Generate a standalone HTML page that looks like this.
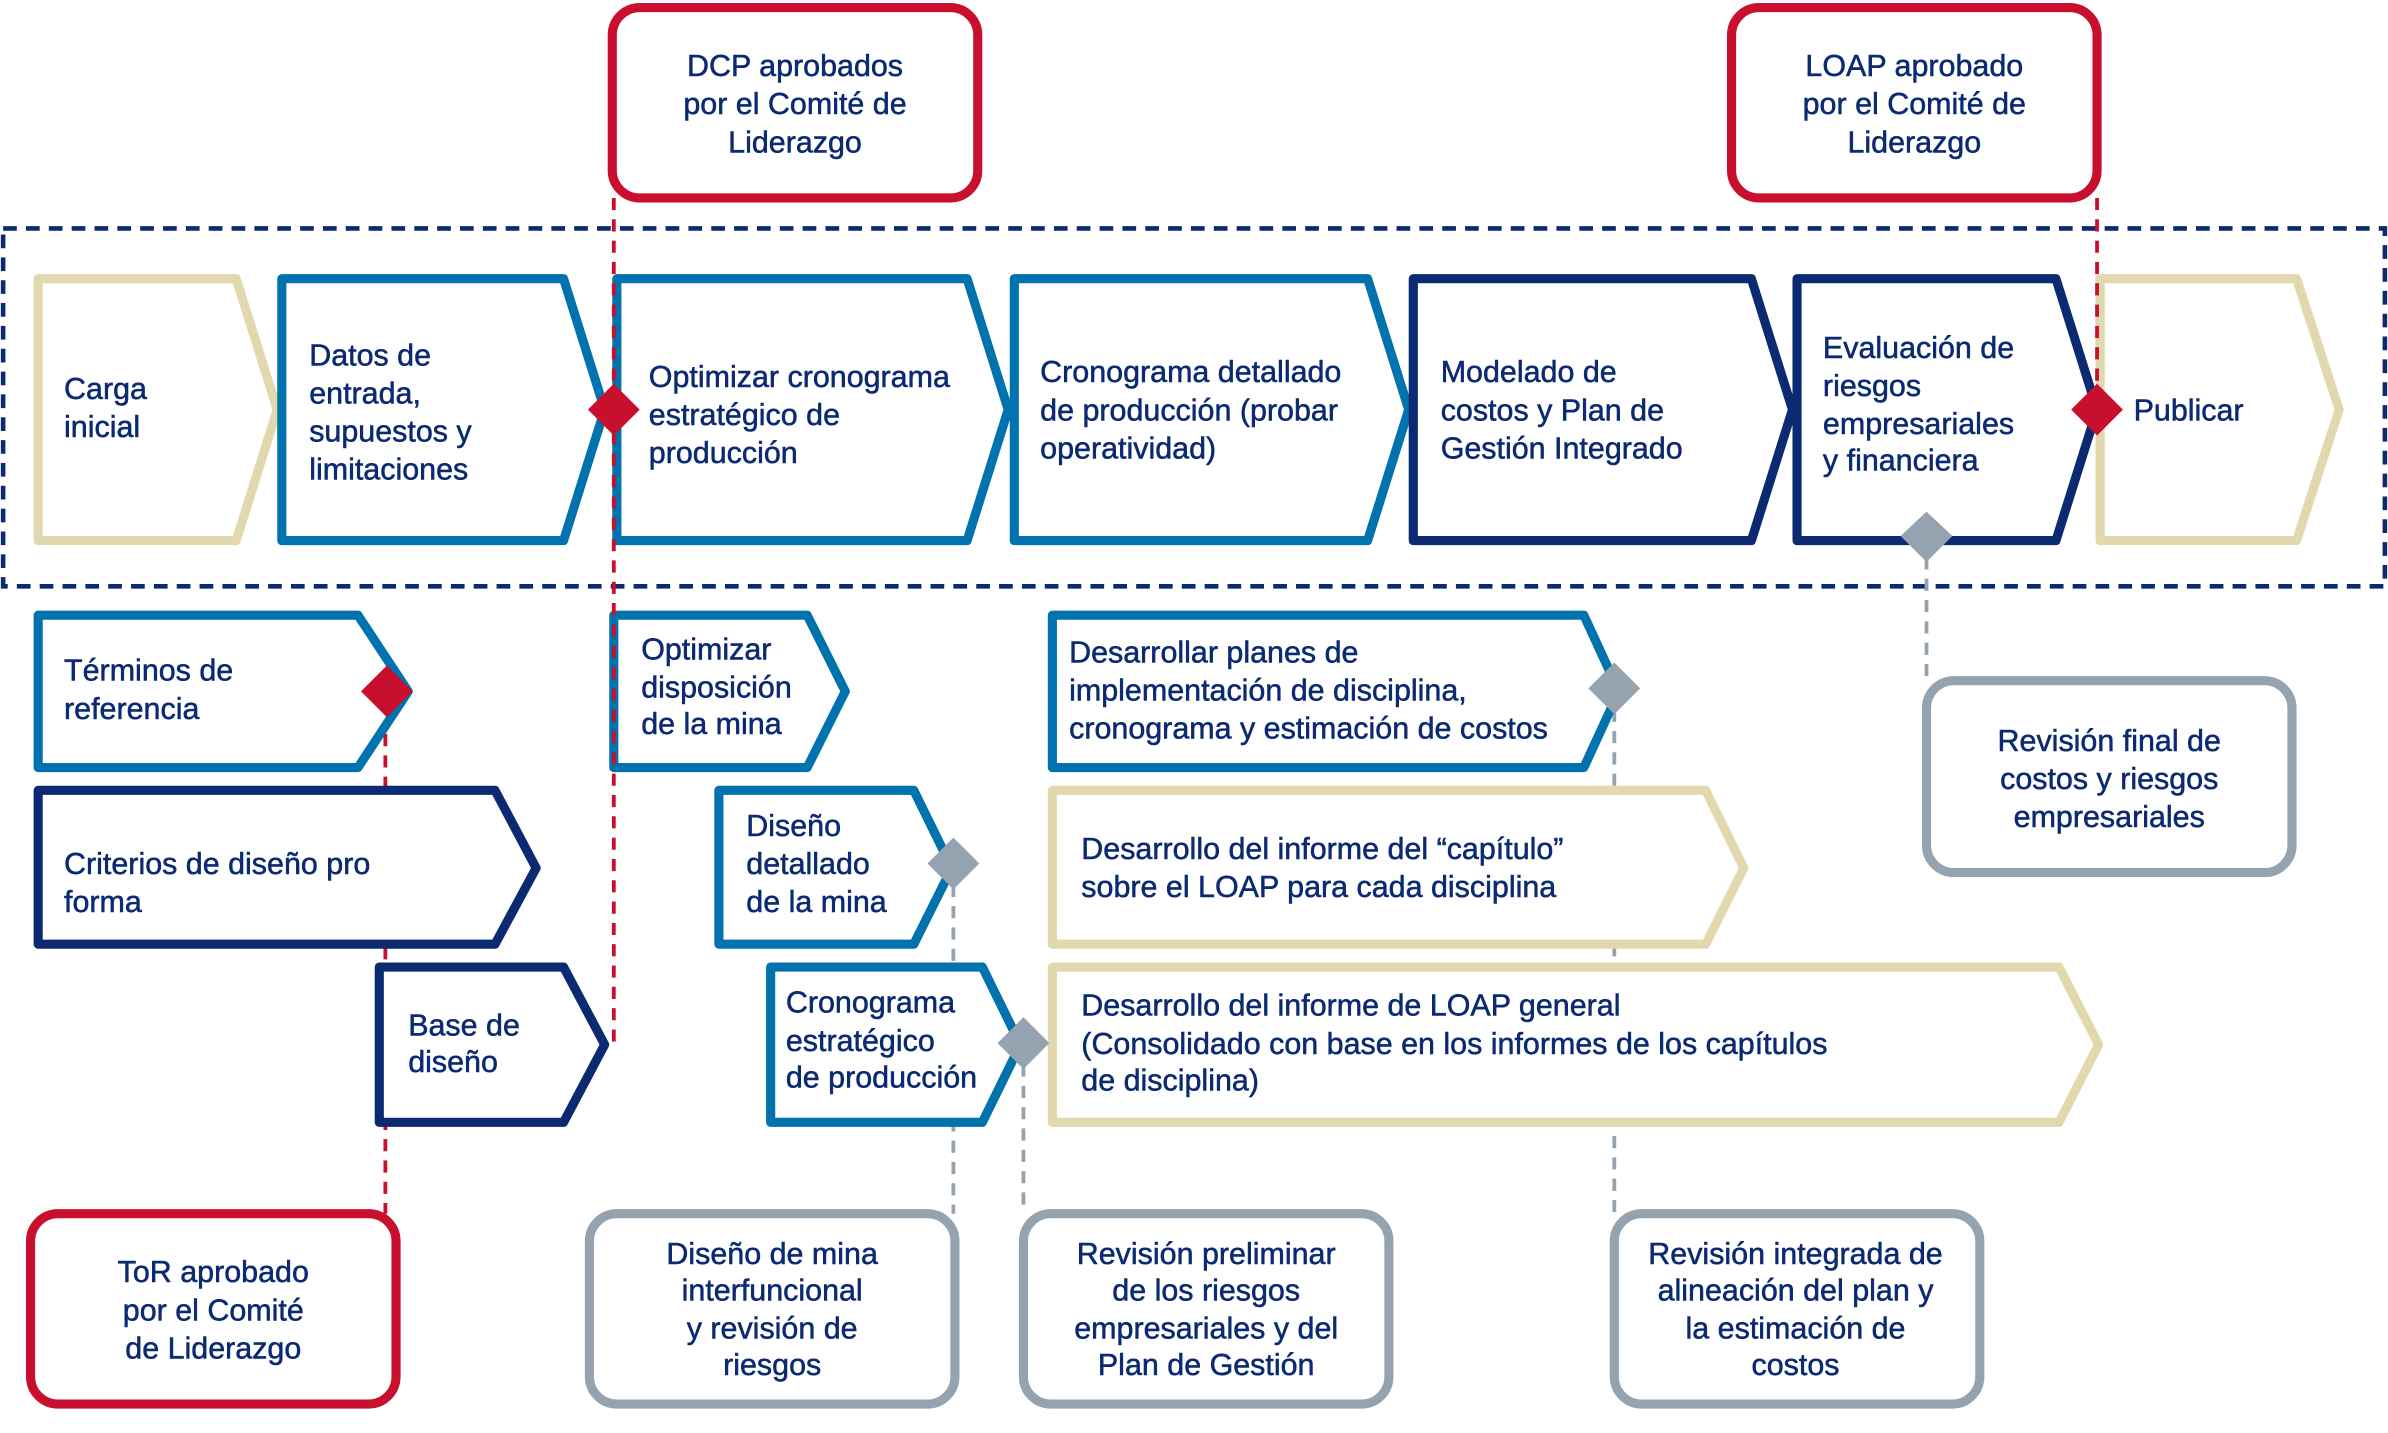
<!DOCTYPE html>
<html><head><meta charset="utf-8"><style>
html,body{margin:0;padding:0;background:#fff}
svg{display:block}
text{font-family:"Liberation Sans",sans-serif;font-size:20px;fill:#0B2A72;stroke:#0B2A72;stroke-width:0.35}
</style></head><body>
<svg width="2388" height="1433" viewBox="0 0 1568 941" xmlns="http://www.w3.org/2000/svg">
<defs>
<style>
.ch{fill:#fff;stroke-width:6;stroke-linejoin:round}
.be{stroke:#E2D8AE}.bl{stroke:#0072AE}.nv{stroke:#0B2A72}
.rb{fill:#fff;stroke-width:6}
</style>
</defs>
<rect x="2" y="150" width="1564" height="235" fill="none" stroke="#0B2A72" stroke-width="3" stroke-dasharray="9,6"/>

<g fill="none" stroke-width="2.5" stroke-dasharray="8,6">
<line x1="253" y1="454" x2="253" y2="797" stroke="#C8102E"/>
<line x1="626" y1="567" x2="626" y2="797" stroke="#94A3AF"/>
<line x1="672" y1="685" x2="672" y2="797" stroke="#94A3AF"/>
<line x1="1060" y1="452" x2="1060" y2="797" stroke="#94A3AF"/>
<line x1="1265" y1="352" x2="1265" y2="447" stroke="#94A3AF"/>
</g>

<path class="ch be" d="M25 183H155L182 269L155 355H25Z"/>
<path class="ch bl" d="M185 183H370L397 269L370 355H185Z"/>
<path class="ch bl" d="M405 183H635L662 269L635 355H405Z"/>
<path class="ch bl" d="M666 183H898L925 269L898 355H666Z"/>
<path class="ch nv" d="M928 183H1150L1177 269L1150 355H928Z"/>
<path class="ch nv" d="M1180 183H1350L1377 269L1350 355H1180Z"/>
<path class="ch be" d="M1379 183H1508L1536 269L1508 355H1379Z"/>

<path class="ch bl" d="M25 404H235L268 454L235 504H25Z"/>
<path class="ch bl" d="M403 404H530L555 454L530 504H403Z"/>
<path class="ch bl" d="M691 404H1040L1063 454L1040 504H691Z"/>
<path class="ch nv" d="M25 519H325L352 570L325 620H25Z"/>
<path class="ch bl" d="M472 519H600L625 570L600 620H472Z"/>
<path class="ch be" d="M691 519H1120L1145 570L1120 620H691Z"/>
<path class="ch nv" d="M249 635H370L397 686L370 737H249Z"/>
<path class="ch bl" d="M506 635H645L670 686L645 737H506Z"/>
<path class="ch be" d="M691 635H1352L1378 686L1352 737H691Z"/>

<g fill="none" stroke-width="2.5" stroke-dasharray="8,6">
<line x1="403" y1="130" x2="403" y2="685" stroke="#C8102E"/>
<line x1="1377" y1="130" x2="1377" y2="269" stroke="#C8102E"/>
</g>

<rect class="rb" x="402" y="5" width="240" height="125" rx="18" stroke="#C8102E"/>
<rect class="rb" x="1137" y="5" width="240" height="125" rx="18" stroke="#C8102E"/>
<rect class="rb" x="1265" y="447" width="240" height="126" rx="18" stroke="#94A3AF"/>
<rect class="rb" x="20" y="797" width="240" height="125" rx="18" stroke="#C8102E"/>
<rect class="rb" x="387" y="797" width="240" height="125" rx="18" stroke="#94A3AF"/>
<rect class="rb" x="672" y="797" width="240" height="125" rx="18" stroke="#94A3AF"/>
<rect class="rb" x="1060" y="797" width="240" height="125" rx="18" stroke="#94A3AF"/>

<g>
<path d="M403 252L420 269L403 286L386 269Z" fill="#C8102E"/>
<path d="M1377 252L1394 269L1377 286L1360 269Z" fill="#C8102E"/>
<path d="M254 437L271 454L254 471L237 454Z" fill="#C8102E"/>
<path d="M1265 336L1282 352L1265 369L1248 352Z" fill="#94A3AF"/>
<path d="M1060 435L1077 452L1060 469L1043 452Z" fill="#94A3AF"/>
<path d="M626 550L643 567L626 584L609 567Z" fill="#94A3AF"/>
<path d="M672 668L689 685L672 702L655 685Z" fill="#94A3AF"/>
</g>

<g text-anchor="middle">
<text x="522" y="50">DCP aprobados</text><text x="522" y="75">por el Comité de</text><text x="522" y="100">Liderazgo</text>
<text x="1257" y="50">LOAP aprobado</text><text x="1257" y="75">por el Comité de</text><text x="1257" y="100">Liderazgo</text>
<text x="1385" y="493">Revisión final de</text><text x="1385" y="518">costos y riesgos</text><text x="1385" y="543">empresariales</text>
<text x="140" y="842">ToR aprobado</text><text x="140" y="867">por el Comité</text><text x="140" y="892">de Liderazgo</text>
<text x="507" y="830">Diseño de mina</text><text x="507" y="854">interfuncional</text><text x="507" y="879">y revisión de</text><text x="507" y="903">riesgos</text>
<text x="792" y="830">Revisión preliminar</text><text x="792" y="854">de los riesgos</text><text x="792" y="879">empresariales y del</text><text x="792" y="903">Plan de Gestión</text>
<text x="1179" y="830">Revisión integrada de</text><text x="1179" y="854">alineación del plan y</text><text x="1179" y="879">la estimación de</text><text x="1179" y="903">costos</text>
</g>
<g>
<text x="42" y="262">Carga</text><text x="42" y="287">inicial</text>
<text x="203" y="240">Datos de</text><text x="203" y="265">entrada,</text><text x="203" y="290">supuestos y</text><text x="203" y="315">limitaciones</text>
<text x="426" y="254">Optimizar cronograma</text><text x="426" y="279">estratégico de</text><text x="426" y="304">producción</text>
<text x="683" y="251">Cronograma detallado</text><text x="683" y="276">de producción (probar</text><text x="683" y="301">operatividad)</text>
<text x="946" y="251">Modelado de</text><text x="946" y="276">costos y Plan de</text><text x="946" y="301">Gestión Integrado</text>
<text x="1197" y="235">Evaluación de</text><text x="1197" y="260">riesgos</text><text x="1197" y="285">empresariales</text><text x="1197" y="309">y financiera</text>
<text x="1401" y="276">Publicar</text>
<text x="42" y="447">Términos de</text><text x="42" y="472">referencia</text>
<text x="421" y="433">Optimizar</text><text x="421" y="458">disposición</text><text x="421" y="482">de la mina</text>
<text x="702" y="435">Desarrollar planes de</text><text x="702" y="460">implementación de disciplina,</text><text x="702" y="485">cronograma y estimación de costos</text>
<text x="42" y="574">Criterios de diseño pro</text><text x="42" y="599">forma</text>
<text x="490" y="549">Diseño</text><text x="490" y="574">detallado</text><text x="490" y="599">de la mina</text>
<text x="710" y="564">Desarrollo del informe del “capítulo”</text><text x="710" y="589">sobre el LOAP para cada disciplina</text>
<text x="268" y="680">Base de</text><text x="268" y="704">diseño</text>
<text x="516" y="665">Cronograma</text><text x="516" y="690">estratégico</text><text x="516" y="714">de producción</text>
<text x="710" y="667">Desarrollo del informe de LOAP general</text><text x="710" y="692">(Consolidado con base en los informes de los capítulos</text><text x="710" y="716">de disciplina)</text>
</g>
</svg>
</body></html>
